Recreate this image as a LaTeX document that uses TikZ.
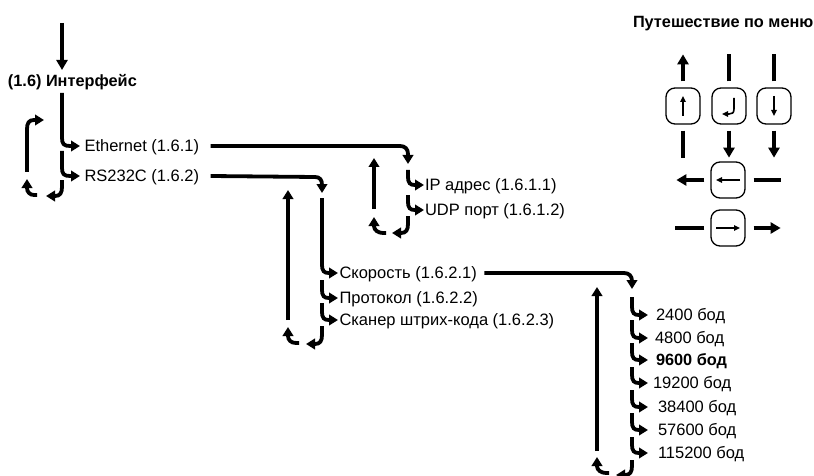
\documentclass[tikz,border=0pt]{standalone}
\usepackage{fontspec}
\setmainfont{Liberation Sans}
\usetikzlibrary{arrows.meta}
\begin{document}
\begin{tikzpicture}[x=1pt,y=-1pt,
  flow/.style={line width=3.8pt},
  fa/.style={-{Triangle[width=10.5pt,length=9pt]}},
  big/.style={-{Triangle[width=11pt,length=10pt]}},
  lbl/.style={anchor=west,inner sep=0pt,outer ysep=0pt,outer xsep=0pt,text height=11.8pt,text depth=0pt,font=\fontsize{16.5}{16.5}\selectfont},
  bfl/.style={lbl,font=\bfseries\fontsize{16.3}{16.3}\selectfont},
  btn/.style={draw,line width=1.3pt,rounded corners=9pt,minimum width=34pt,minimum height=36pt,inner sep=0pt},
  nav/.style={line width=4pt},
  thinarr/.style={line width=1.6pt,-{Triangle[width=5.5pt,length=6pt]}}
]
\useasboundingbox (0,0) rectangle (814,476);

% ---------- group 1 ----------
\node[bfl] (iface) at (8,81) {(1.6) Интерфейс};
\coordinate (c0) at (62,23);
\coordinate (c1) at (62,70);
\draw[flow,big] (c0) -- (c1);
\node[lbl,outer xsep=4.5pt] (eth) at (80,146) {Ethernet (1.6.1)};
\draw[flow,fa] (62,93) -- (62,138) .. controls (62,144) and (64,146) .. (70,146) -- (eth.west);
\node[lbl,outer xsep=4.5pt] (rs) at (80,176) {RS232C (1.6.2)};
\draw[flow,fa] (62,151) -- (62,168) .. controls (62,174) and (64,176) .. (70,176) -- (rs.west);
\draw[flow,fa] (62,180) -- (62,187) .. controls (62,193) and (60,196) .. (55,196) -- (46,196);
\draw[flow,fa] (37,195) -- (34,195) .. controls (30,195) and (27,192) .. (27,188) -- (27,179);
\draw[flow,fa] (27,172) -- (27,129) .. controls (27,123) and (29,120) .. (34,120) -- (44,120);

% Ethernet -> group 2
\coordinate (g2) at (408,164);
\draw[flow,fa] ([xshift=7pt]eth.east) -- (400,146) .. controls (405,146) and (408,149) .. (408,154) -- (g2);

% ---------- group 2 ----------
\node[lbl,outer xsep=1pt] (ip) at (424,185) {IP адрес (1.6.1.1)};
\draw[flow,fa] (408,170) -- (408,177) .. controls (408,183) and (410,185) .. (415,185) -- (ip.west);
\node[lbl,outer xsep=1pt] (udp) at (424,210) {UDP порт (1.6.1.2)};
\draw[flow,fa] (408,195) -- (408,202) .. controls (408,208) and (410,210) .. (415,210) -- (udp.west);
\draw[flow,fa] (408,216) -- (408,224) .. controls (408,230) and (406,233) .. (401,233) -- (392,233);
\draw[flow,fa] (386,233) -- (383,233) .. controls (378,233) and (374,230) .. (374,226) -- (374,217);
\draw[flow,fa] (374,209) -- (374,158);

% RS232C -> group 3
\coordinate (g3) at (322,193);
\draw[flow,fa] ([xshift=7pt]rs.east) -- (315,177) .. controls (320,177) and (322,180) .. (322,185) -- (g3);

% ---------- group 3 ----------
\node[lbl,outer xsep=1.5pt] (sk) at (338,273) {Скорость (1.6.2.1)};
\draw[flow,fa] (322,198) -- (322,265) .. controls (322,271) and (324,273) .. (329,273) -- (sk.west);
\node[lbl,outer xsep=1.5pt] (pr) at (338,298) {Протокол (1.6.2.2)};
\draw[flow,fa] (322,280) -- (322,290) .. controls (322,296) and (324,298) .. (329,298) -- (pr.west);
\node[lbl,outer xsep=1.5pt] (sc) at (338,320) {Сканер штрих-кода (1.6.2.3)};
\draw[flow,fa] (322,303) -- (322,312) .. controls (322,318) and (324,320) .. (329,320) -- (sc.west);
\draw[flow,fa] (322,326) -- (322,335) .. controls (322,341) and (320,344) .. (315,344) -- (306,344);
\draw[flow,fa] (299,343) -- (296,343) .. controls (291,343) and (288,340) .. (288,336) -- (288,327);
\draw[flow,fa] (288,320) -- (288,190);

% Скорость -> group 4
\coordinate (g4) at (632,289);
\draw[flow,fa] ([xshift=6pt]sk.east) -- (624,273) .. controls (629,273) and (632,276) .. (632,281) -- (g4);

% ---------- group 4 ----------
\node[lbl,outer xsep=8pt] (b2400) at (648,315) {2400 бод};
\draw[flow,fa] (632,297) -- (632,307) .. controls (632,313) and (634,315) .. (639,315) -- (b2400.west);
\node[lbl,outer xsep=7pt] (b4800) at (648,338) {4800 бод};
\draw[flow,fa] (632,320) -- (632,330) .. controls (632,336) and (634,338) .. (639,338) -- (b4800.west);
\node[bfl,outer xsep=8pt] (b9600) at (648,360) {9600 бод};
\draw[flow,fa] (632,343) -- (632,352) .. controls (632,358) and (634,360) .. (639,360) -- (b9600.west);
\node[lbl,outer xsep=5pt] (b19200) at (648,383) {19200 бод};
\draw[flow,fa] (632,367) -- (632,375) .. controls (632,381) and (634,383) .. (639,383) -- (b19200.west);
\node[lbl,outer xsep=10pt] (b38400) at (648,407) {38400 бод};
\draw[flow,fa] (632,390) -- (632,399) .. controls (632,405) and (634,407) .. (639,407) -- (b38400.west);
\node[lbl,outer xsep=10pt] (b57600) at (648,430) {57600 бод};
\draw[flow,fa] (632,413) -- (632,422) .. controls (632,428) and (634,430) .. (639,430) -- (b57600.west);
\node[lbl,outer xsep=10pt] (b115200) at (648,453) {115200 бод};
\draw[flow,fa] (632,437) -- (632,445) .. controls (632,451) and (634,453) .. (639,453) -- (b115200.west);
\draw[flow,fa] (632,460) -- (632,466) .. controls (632,472) and (630,475) .. (625,475) -- (616,475);
\draw[flow,fa] (609,473) -- (606,473) .. controls (601,473) and (597,470) .. (597,466) -- (597,457);
\draw[flow,fa] (597,451) -- (597,287);

% ---------- navigation panel ----------
\node[bfl] (ttl) at (633,22) {Путешествие по меню};
\node[btn] (k1) at (683,106) {};
\node[btn] (k2) at (729,106) {};
\node[btn] (k3) at (774,106) {};
\node[btn] (k4) at (728,180) {};
\node[btn] (k5) at (728,228) {};

\draw[nav,big] ([yshift=6pt]k1.north) -- ++(0,-27);
\draw[nav] ([yshift=6pt]k2.north) -- ++(0,-27);
\draw[nav] ([yshift=6pt]k3.north) -- ++(0,-27);
\draw[nav] ([yshift=-6pt]k1.south) -- ++(0,27);
\draw[nav,big] ([yshift=-6pt]k2.south) -- ++(0,27);
\draw[nav,big] ([yshift=-6pt]k3.south) -- ++(0,27);
\draw[nav,big] ([xshift=-6pt]k4.west) -- ++(-28,0);
\draw[nav] ([xshift=8pt]k4.east) -- ++(27,0);
\draw[nav] ([xshift=-6pt]k5.west) -- ++(-29,0);
\draw[nav,big] ([xshift=8pt]k5.east) -- ++(27,0);

\draw[thinarr] ([shift={(0,10)}]k1.center) -- ([shift={(0,-10)}]k1.center);
\draw[thinarr] ([shift={(0,-10)}]k3.center) -- ([shift={(0,10)}]k3.center);
\draw[thinarr] ([shift={(12,0)}]k4.center) -- ([shift={(-12,0)}]k4.center);
\draw[thinarr] ([shift={(-12,0)}]k5.center) -- ([shift={(12,0)}]k5.center);
\draw[thinarr] ([shift={(5,-8)}]k2.center) -- ([shift={(5,3)}]k2.center) .. controls ([shift={(5,7)}]k2.center) and ([shift={(3,8)}]k2.center) .. ([shift={(0,8)}]k2.center) -- ([shift={(-7,8)}]k2.center);
\end{tikzpicture}
\end{document}
